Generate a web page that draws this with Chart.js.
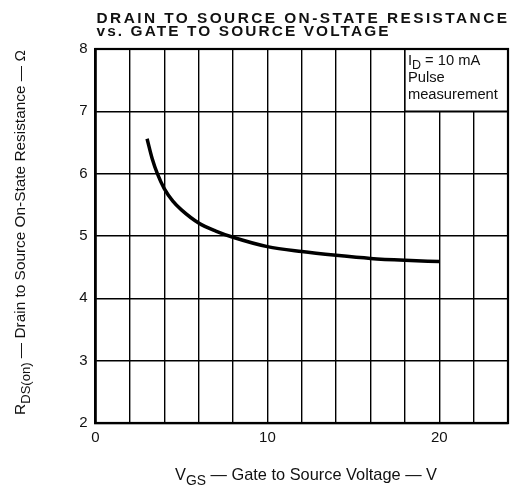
<!DOCTYPE html>
<html><head><meta charset="utf-8">
<script src="https://cdn.jsdelivr.net/npm/chart.js@4"></script>
<style>html,body{margin:0;padding:0;background:#fff}#wrap{width:514px;height:489px}</style>
</head><body><div id="wrap"><canvas id="c" width="514" height="489"></canvas></div>
<script>
const vgs = [3, 3.3, 3.6, 4, 4.5, 5, 6, 7, 8, 10, 12, 14, 16, 18, 20];
const rdsOn = [6.56, 6.24, 6.0, 5.76, 5.56, 5.42, 5.21, 5.08, 4.98, 4.83, 4.75, 4.69, 4.64, 4.61, 4.59];
const xTickLabels = ['0', '10', '20'];
const yTickLabels = ['2', '3', '4', '5', '6', '7', '8'];
const titleLines = ['DRAIN TO SOURCE ON-STATE RESISTANCE', 'vs. GATE TO SOURCE VOLTAGE'];
const noteLines = [[['I',0],['D',1],[' = 10 mA',0]], [['Pulse',0]], [['measurement',0]]];
const yTitle = [['R',0],['DS(on)',1],[' \u2014 Drain to Source On-State Resistance \u2014 \u03A9',0]];
const xTitle = [['V',0],['GS',1],[' \u2014 Gate to Source Voltage \u2014 V',0]];

const FONT = '"Liberation Sans", Arial, sans-serif';

function richWidth(ctx, parts, size) {
  let w = 0;
  parts.forEach(([t, sub]) => { ctx.font = (sub ? size*0.85 : size) + 'px ' + FONT; w += ctx.measureText(t).width; });
  return w;
}
function drawRich(ctx, parts, x, y, size, align) {
  const w = richWidth(ctx, parts, size);
  let cx = align === 'center' ? x - w/2 : x;
  parts.forEach(([t, sub]) => {
    ctx.font = (sub ? size*0.85 : size) + 'px ' + FONT;
    ctx.fillText(t, cx, y + (sub ? size*0.3 : 0));
    cx += ctx.measureText(t).width;
  });
}
function fitSize(ctx, parts, target) {
  return 14 * target / richWidth(ctx, parts, 14);
}

const overlay = {
  id: 'overlay',
  beforeDatasetsDraw(chart) {
    const ctx = chart.ctx, xs = chart.scales.x, ys = chart.scales.y;
    const l = xs.getPixelForValue(18), r = xs.getPixelForValue(24);
    const t = ys.getPixelForValue(8), b = ys.getPixelForValue(7);
    ctx.save();
    ctx.fillStyle = '#fff';
    ctx.fillRect(l, t, r - l, b - t);
    ctx.strokeStyle = '#000';
    ctx.lineWidth = 1.5;
    ctx.beginPath();
    ctx.moveTo(l, t); ctx.lineTo(l, b); ctx.lineTo(r, b);
    ctx.stroke();
    ctx.fillStyle = '#111';
    ctx.textBaseline = 'alphabetic';
    ctx.textAlign = 'left';
    const ns = fitSize(ctx, noteLines[2], 90);
    drawRich(ctx, noteLines[0], l + 3, t + 16, ns);
    drawRich(ctx, noteLines[1], l + 3, t + 33, ns);
    drawRich(ctx, noteLines[2], l + 3, t + 50, ns);
    ctx.restore();
  },
  afterDraw(chart) {
    const ctx = chart.ctx, area = chart.chartArea;
    ctx.save();
    ctx.fillStyle = '#111';
    ctx.textBaseline = 'alphabetic';
    ctx.textAlign = 'left';
    ctx.font = 'bold 14px ' + FONT;
    const targets = [area.right - area.left - 2, 292];
    const base = [22.7, 36.2];
    const sx = 1.1;
    titleLines.forEach((s, i) => {
      ctx.letterSpacing = '0px';
      const m = ctx.measureText(s).width * sx;
      const ls = Math.max(0, (targets[i] - m) / (s.length - 1)) / sx;
      ctx.save();
      ctx.translate(area.left + 1, base[i]);
      ctx.scale(sx, 1);
      ctx.letterSpacing = ls + 'px';
      ctx.fillText(s, 0, 0);
      ctx.restore();
    });
    ctx.letterSpacing = '0px';
    // x title
    const xs = fitSize(ctx, xTitle, 262);
    drawRich(ctx, xTitle, 306, 480, xs, 'center');
    // y title
    const ysz = fitSize(ctx, yTitle, 365);
    ctx.translate(25, 232.5);
    ctx.rotate(-Math.PI / 2);
    drawRich(ctx, yTitle, 0, 0, ysz, 'center');
    ctx.restore();
  }
};

new Chart(document.getElementById('c'), {
  type: 'line',
  data: {
    datasets: [{
      data: vgs.map((v, i) => ({ x: v, y: rdsOn[i] })),
      borderColor: '#000',
      borderWidth: 3.5,
      pointRadius: 0,
      fill: false,
      cubicInterpolationMode: 'monotone'
    }]
  },
  options: {
    responsive: false,
    animation: false,
    layout: { padding: { left: 0, right: 4, top: 49, bottom: 0 } },
    plugins: { legend: { display: false }, tooltip: { enabled: false }, title: { display: false } },
    scales: {
      x: {
        type: 'linear', min: 0, max: 24,
        afterFit(s) { s.height = 66; },
        border: { display: true, color: '#000', width: 2.2 },
        grid: { color: '#000', lineWidth: 1.4, drawTicks: false },
        ticks: {
          stepSize: 2, padding: 6, color: '#111', autoSkip: false, maxRotation: 0,
          font: { family: FONT, size: 15 },
          callback: v => (v % 10 === 0 ? xTickLabels[v / 10] : '')
        }
      },
      y: {
        type: 'linear', min: 2, max: 8,
        afterFit(s) { s.width = 95.5; },
        border: { display: true, color: '#000', width: 2.2 },
        grid: { color: '#000', lineWidth: 1.4, drawTicks: false },
        ticks: {
          stepSize: 1, padding: 8, color: '#111',
          font: { family: FONT, size: 15 },
          callback: v => yTickLabels[v - 2]
        }
      }
    }
  },
  plugins: [overlay, {
    id: 'frame',
    afterDatasetsDraw(chart) {
      const ctx = chart.ctx, a = chart.chartArea;
      ctx.save();
      ctx.strokeStyle = '#000';
      ctx.lineWidth = 2.2;
      ctx.strokeRect(a.left, a.top, a.right - a.left, a.bottom - a.top);
      ctx.restore();
    }
  }]
});
</script>
</body></html>
